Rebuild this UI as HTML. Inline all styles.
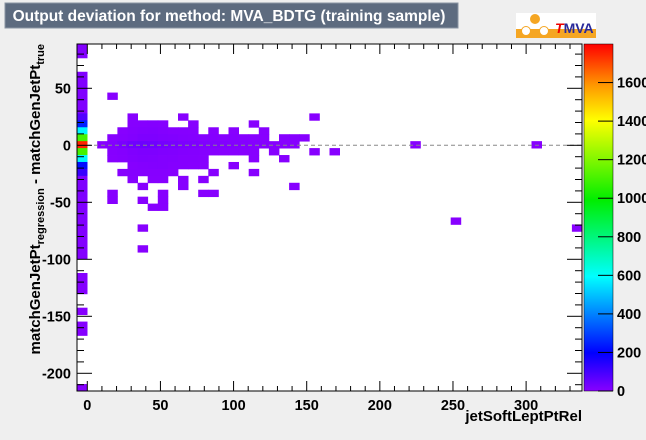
<!DOCTYPE html>
<html><head><meta charset="utf-8"><style>
html,body{margin:0;padding:0;background:#efefef;}
svg{display:block;font-family:"Liberation Sans",Arial,sans-serif;}
</style></head><body>
<svg id="c" width="646" height="440" viewBox="0 0 646 440" xmlns="http://www.w3.org/2000/svg">
<rect x="0" y="0" width="646" height="440" fill="#efefef"/>
<g>
<rect x="5" y="3" width="453" height="25" fill="#5d6b7f" stroke="#8a94a3" stroke-width="1"/>
<text x="229" y="21" text-anchor="middle" fill="#fff" font-weight="bold" font-size="15.5">Output deviation for method: MVA_BDTG (training sample)</text>
</g>
<g>
<rect x="516" y="13" width="80" height="25" fill="#fff"/>
<rect x="516" y="29" width="80" height="9" fill="#f5a623"/>
<circle cx="535" cy="19" r="5" fill="#f5a623"/>
<circle cx="526" cy="31" r="4.5" fill="#fff" stroke="#f5a623"/>
<circle cx="544" cy="31" r="4.5" fill="#fff" stroke="#f5a623"/>
<text x="555" y="33" font-weight="bold" font-size="14"><tspan fill="#e00" font-style="italic">T</tspan><tspan fill="#2a2a9a">MVA</tspan></text>
</g>
<rect x="77" y="44" width="505" height="347" fill="#fff"/>
<g id="cells"></g>
<line x1="87" y1="145.3" x2="582" y2="145.3" stroke="#888" stroke-dasharray="4,3"/>
<g id="axes"></g>
<rect x="77" y="44" width="505" height="347" fill="none" stroke="#000" stroke-width="1"/>
<defs><linearGradient id="pal" x1="0" y1="1" x2="0" y2="0">
<stop offset="0" stop-color="#8800ff"/><stop offset="0.11" stop-color="#0000ff"/>
<stop offset="0.33" stop-color="#00ffff"/><stop offset="0.55" stop-color="#00ee00"/>
<stop offset="0.78" stop-color="#ffff00"/><stop offset="0.88" stop-color="#ff9900"/>
<stop offset="1" stop-color="#ff0000"/></linearGradient></defs>
<rect x="584" y="44" width="29" height="347" fill="url(#pal)" stroke="#000" stroke-width="0.5"/>
<g id="zaxis"></g>
<text x="582" y="421" text-anchor="end" font-weight="bold" font-size="15">jetSoftLeptPtRel</text>
<text transform="translate(40,44) rotate(-90)" text-anchor="end" font-weight="bold" font-size="15">matchGenJetPt<tspan font-size="11" dy="4">regression</tspan><tspan dy="-4"> - matchGenJetPt</tspan><tspan font-size="11" dy="4">true</tspan></text>
</svg>
<script>
const xTicks=[0,50,100,150,200,250,300];
const yTicks=[50,0,-50,-100,-150,-200];
const zTicks=[0,200,400,600,800,1000,1200,1400,1600];
const xMin=-7.04, binW=6.905, yMax=88.86, binH=6.087;
const cellCol=[0,0,0,0,0,0,0,0,0,0,0,0,0,0,0,0,0,0,0,0,0,0,0,0,0,0,0,0,0,0,0,0,0,0,0,0,0,0,
3,5,10,23,5,6,7,8,11,17,4,5,6,7,8,9,10,11,13,15,18,
3,4,5,6,7,8,9,10,11,12,13,14,15,16,17,18,20,21,22,
2,3,4,5,6,7,8,9,10,11,12,13,14,15,16,17,18,19,20,21,33,45,
3,4,5,6,7,8,9,10,11,12,13,14,15,16,17,19,23,25,
3,4,5,6,7,8,9,10,11,12,17,20,5,6,7,8,9,10,11,12,15,
4,5,6,7,8,9,13,17,5,7,8,10,12,6,10,21,3,8,12,13,3,6,8,7,8,37,6,49,6];
const cellRow=[0,1,4,5,6,7,8,9,10,11,12,13,14,15,16,17,18,19,20,21,22,23,24,25,26,27,28,29,30,33,34,35,38,40,41,49,2,3,
7,10,10,10,11,11,11,11,11,11,12,12,12,12,12,12,12,12,12,12,12,
13,13,13,13,13,13,13,13,13,13,13,13,13,13,13,13,13,13,13,
14,14,14,14,14,14,14,14,14,14,14,14,14,14,14,14,14,14,14,14,14,14,
15,15,15,15,15,15,15,15,15,15,15,15,15,15,15,15,15,15,
16,16,16,16,16,16,16,16,16,16,16,16,17,17,17,17,17,17,17,17,17,
18,18,18,18,18,18,18,18,19,19,19,19,19,20,20,20,21,21,21,21,22,22,22,23,23,25,26,26,29];
const cellCount=[8,8,12,12,12,12,12,12,80,250,580,1100,1750,1100,580,220,120,15,15,15,12,12,12,10,10,10,8,8,8,5,5,5,3,4,4,3,0,0,
2,2,2,2,3,5,6,4,2,2,2,6,9,10,8,5,4,3,2,2,2,
2,5,9,15,14,12,10,8,6,5,4,3,4,3,2,2,2,2,2,
2,8,20,35,40,35,28,22,18,14,12,10,9,8,6,5,4,3,3,2,2,2,
3,6,12,15,14,12,10,8,6,5,3,2,2,2,2,2,2,2,
2,5,9,12,10,8,7,5,4,3,2,2,3,6,8,7,5,4,3,2,2,
2,4,4,3,3,2,2,2,2,2,2,2,2,2,2,2,2,2,2,2,2,2,2,2,2,2,2,2,2];
const zMax=1800;
function xPix(v){return 87.3+v*1.4627;}
function yPix(v){return 145.3-v*1.14;}
function zPix(v){return 391-v*(347/zMax);}
const stops=[[0,[136,0,255]],[0.11,[0,0,255]],[0.33,[0,255,255]],[0.55,[0,238,0]],[0.78,[255,255,0]],[0.88,[255,153,0]],[1,[255,0,0]]];
function col(v){let t=Math.min(1,Math.max(0,v/zMax));for(let i=1;i<stops.length;i++){if(t<=stops[i][0]){const a=stops[i-1],b=stops[i];const f=(t-a[0])/(b[0]-a[0]);const c=a[1].map((x,k)=>Math.round(x+(b[1][k]-x)*f));return 'rgb('+c.join(',')+')';}}return 'rgb(255,0,0)';}
const NS='http://www.w3.org/2000/svg';
const cg=document.getElementById('cells');
for(let i=0;i<cellCol.length;i++){
  if(cellCount[i]<=0)continue;
  const x0=xMin+cellCol[i]*binW, y0=yMax-cellRow[i]*binH;
  const px0=xPix(x0), px1=xPix(x0+binW), py0=yPix(y0), py1=yPix(y0-binH);
  const r=document.createElementNS(NS,'rect');
  r.setAttribute('x',px0.toFixed(2));r.setAttribute('y',py0.toFixed(2));
  r.setAttribute('width',(px1-px0+0.4).toFixed(2));r.setAttribute('height',(py1-py0+0.4).toFixed(2));
  r.setAttribute('fill',col(cellCount[i]));
  
  
  cg.appendChild(r);
}
const ag=document.getElementById('axes');
function line(g,x1,y1,x2,y2,name){const l=document.createElementNS(NS,'line');l.setAttribute('x1',x1);l.setAttribute('y1',y1);l.setAttribute('x2',x2);l.setAttribute('y2',y2);l.setAttribute('stroke','#000');l.setAttribute('stroke-width','1');


g.appendChild(l);}
function txt(g,x,y,s,anchor,name){const t=document.createElementNS(NS,'text');t.setAttribute('x',x);t.setAttribute('y',y);t.setAttribute('text-anchor',anchor);t.setAttribute('font-weight','bold');t.setAttribute('font-size','14.5');t.textContent=s;


g.appendChild(t);}
for(let v=0;v<=330;v+=10){const p=xPix(v);const L=(v%50===0)?10:5;line(ag,p,391,p,391-L,'x-tick');line(ag,p,44,p,44+L,'x-tick-top');}
for(let v=80;v>=-210;v-=10){const p=yPix(v);const L=(v%50===0)?15:7;line(ag,77,p,77+L,p,'y-tick');line(ag,582,p,582-L,p,'y-tick-right');}
xTicks.forEach(v=>txt(ag,xPix(v),410,String(v),'middle','x-tick-label'));
yTicks.forEach(v=>txt(ag,71,yPix(v)+5,String(v),'end','y-tick-label'));
const zg=document.getElementById('zaxis');
for(let v=0;v<=1700;v+=50){const p=zPix(v);const L=(v%200===0)?15:0;if(L)line(zg,613,p,613-L,p,'z-tick');}
zTicks.forEach(v=>txt(zg,617,zPix(v)+5,String(v),'start','z-tick-label'));
</script>
</body></html>
